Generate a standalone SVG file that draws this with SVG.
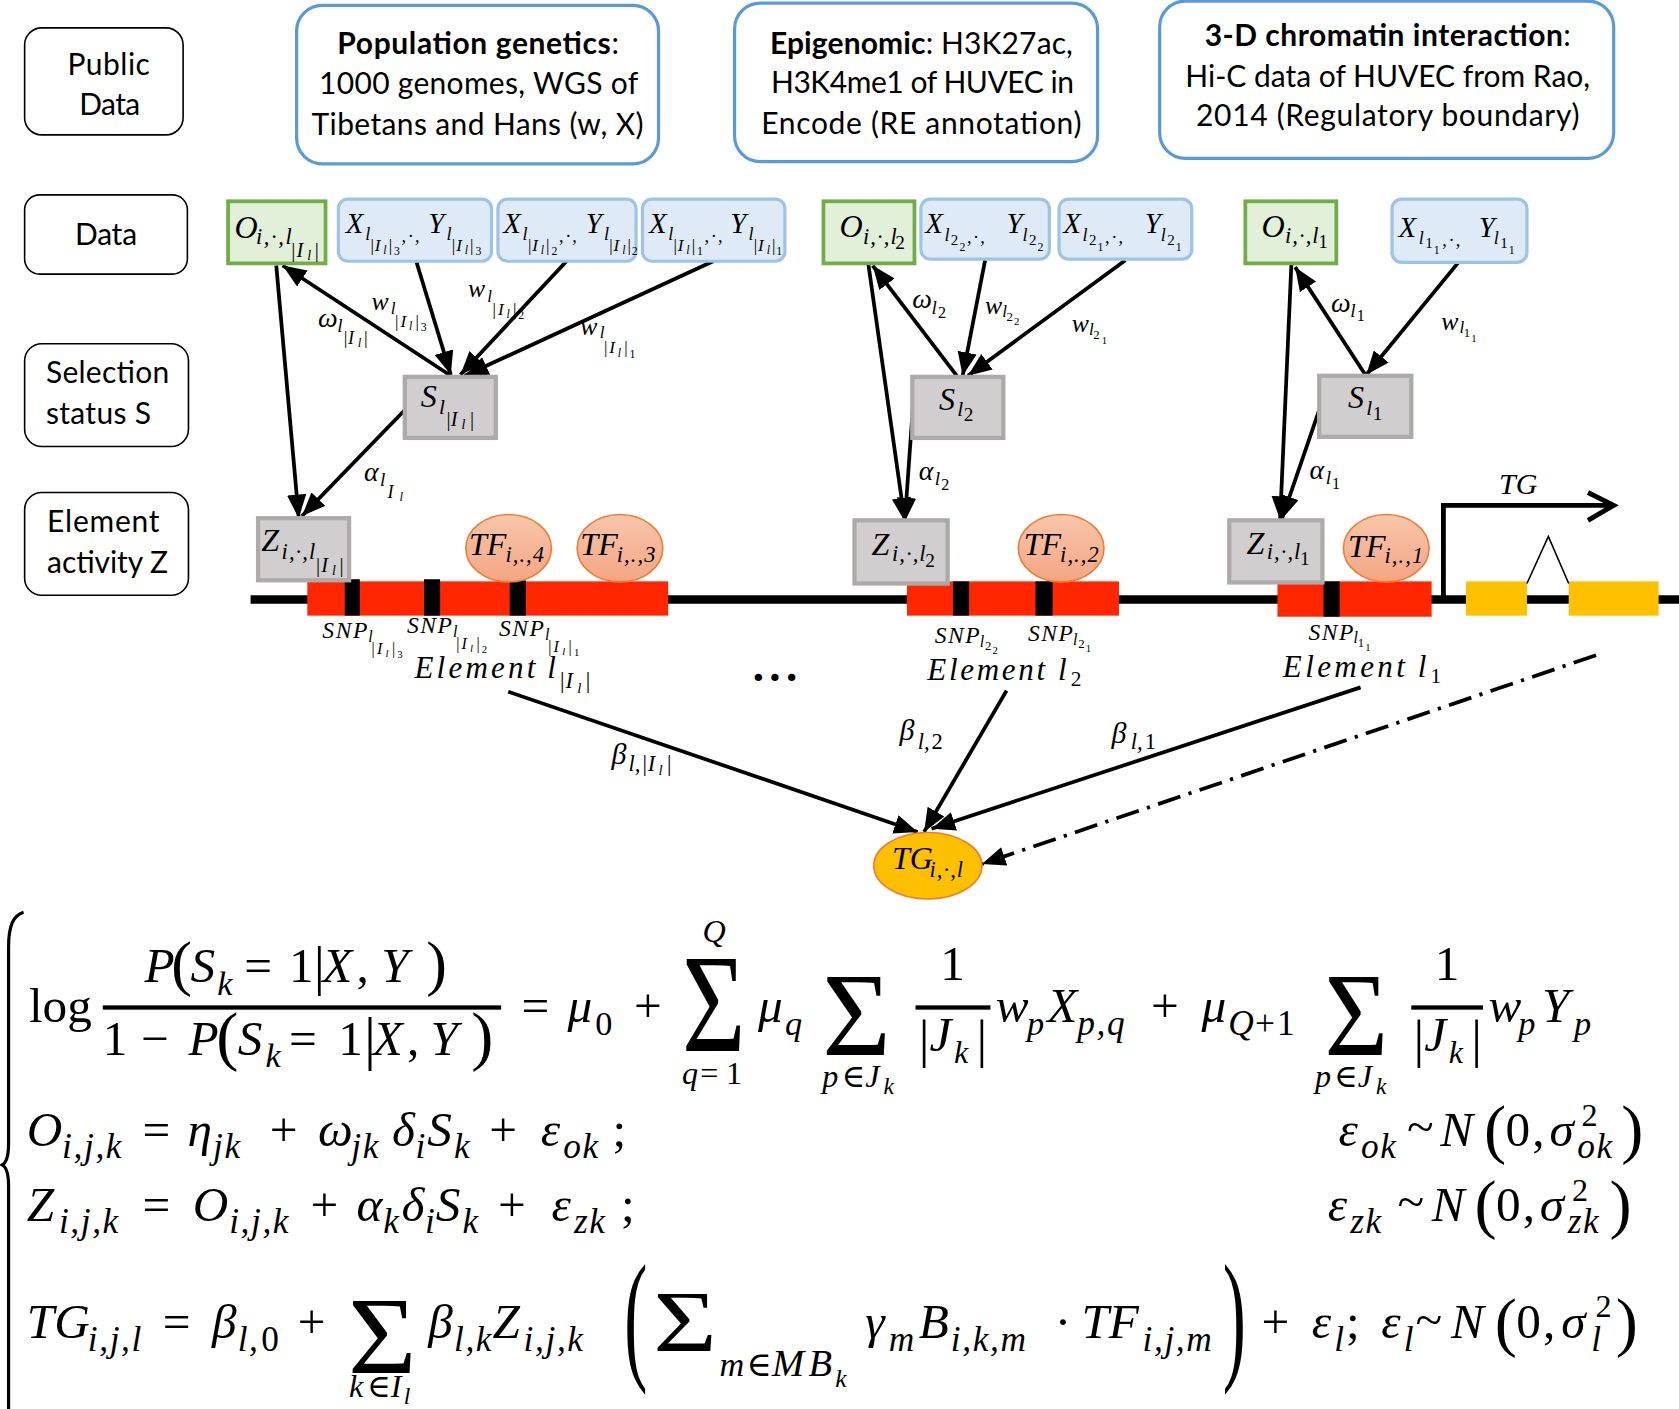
<svg xmlns="http://www.w3.org/2000/svg" width="1679" height="1409" viewBox="0 0 1679 1409">
<defs>
<style>
.lbl{font-family:Lato,"Liberation Sans",sans-serif;font-size:28px;fill:#000}
.b{font-weight:bold}
.i{font-family:"Liberation Serif","DejaVu Serif",serif;font-style:italic;fill:#000}
.n{font-family:"Liberation Serif","DejaVu Serif",serif;font-style:normal;fill:#000}
.s{font-size:33px;letter-spacing:1.5px}
.side{fill:#fff;stroke:#000;stroke-width:1.5}
.top{fill:#fff;stroke:#5b9bd5;stroke-width:3}
.obs{fill:#e2f0d9;stroke:#70ad47;stroke-width:3.5}
.xy{fill:#deebf7;stroke:#9dc3e6;stroke-width:3}
.gr{fill:#d0cece;stroke:#aeaaaa;stroke-width:4}
.tf{fill:url(#tfg);stroke:#ed7d31;stroke-width:1.5}
.arr{stroke:#000;stroke-width:3.5;fill:none;marker-end:url(#ah)}
</style>
<linearGradient id="tfg" x1="0" y1="0" x2="0" y2="1">
<stop offset="0" stop-color="#f8c6ab"/>
<stop offset="1" stop-color="#f4a683"/>
</linearGradient>
<marker id="ah" markerUnits="userSpaceOnUse" markerWidth="24" markerHeight="20" refX="22" refY="9" orient="auto">
<path d="M0,0 L22,9 L0,18 z" fill="#000"/>
</marker>
</defs>
<rect width="1679" height="1409" fill="#fff"/>
<g transform="scale(1.07079,1.07067)">

<!-- side labels -->
<g id="side-public"><rect class="side" x="23" y="26" width="148" height="100" rx="16"/>
<text class="lbl" x="63" y="70" textLength="77">Public</text><text class="lbl" x="74" y="107" textLength="57">Data</text></g>
<g id="side-data"><rect class="side" x="23" y="182" width="152" height="74" rx="14"/>
<text class="lbl" x="70" y="229" textLength="58">Data</text></g>
<g id="side-selection"><rect class="side" x="23" y="321" width="153" height="96" rx="16"/>
<text class="lbl" x="43" y="358" textLength="115">Selection</text><text class="lbl" x="43" y="396" textLength="98">status S</text></g>
<g id="side-element"><rect class="side" x="23" y="460" width="153" height="96" rx="16"/>
<text class="lbl" x="44" y="497" textLength="105">Element</text><text class="lbl" x="44" y="535" textLength="113">activity Z</text></g>

<!-- top public data boxes -->
<g id="pub-popgen"><rect class="top" x="277" y="5" width="338" height="148" rx="24"/>
<text class="lbl" x="315" y="50" textLength="263"><tspan class="b">Population genetics</tspan>:</text>
<text class="lbl" x="298" y="88" textLength="298">1000 genomes, WGS of</text>
<text class="lbl" x="291" y="126" textLength="310">Tibetans and Hans (w, X)</text></g>
<g id="pub-epi"><rect class="top" x="686" y="3" width="339" height="148" rx="24"/>
<text class="lbl" x="719" y="50" textLength="283"><tspan class="b">Epigenomic</tspan>: H3K27ac,</text>
<text class="lbl" x="720" y="87" textLength="283">H3K4me1 of HUVEC in</text>
<text class="lbl" x="711" y="125" textLength="299">Encode (RE annotation)</text></g>
<g id="pub-hic"><rect class="top" x="1083" y="1" width="424" height="147" rx="24"/>
<text class="lbl" x="1125" y="43" textLength="342"><tspan class="b">3-D chromatin interaction</tspan>:</text>
<text class="lbl" x="1107" y="81" textLength="378">Hi-C data of HUVEC from Rao,</text>
<text class="lbl" x="1117" y="118" textLength="358">2014 (Regulatory boundary)</text></g>

<!-- genome -->
<g id="genome">
<line x1="234" y1="560" x2="1568" y2="560" stroke="#000" stroke-width="8"/>
<rect x="287" y="543" width="337" height="32" fill="#ff2600"/>
<rect x="847" y="543" width="198" height="32" fill="#ff2600"/>
<rect x="1193" y="543" width="144" height="33" fill="#ff2600"/>
<rect x="322" y="541" width="14" height="34" fill="#000"/>
<rect x="396" y="541" width="15" height="34" fill="#000"/>
<rect x="476" y="542" width="15" height="33" fill="#000"/>
<rect x="890" y="543" width="15" height="32" fill="#000"/>
<rect x="967" y="543" width="16" height="32" fill="#000"/>
<rect x="1236" y="543" width="15" height="33" fill="#000"/>
<rect x="1369" y="543" width="57" height="32" fill="#ffc000"/>
<rect x="1465" y="543" width="84" height="32" fill="#ffc000"/>
<polyline points="1426,545 1446,501 1465,545" fill="none" stroke="#000" stroke-width="1.5"/>
<polyline points="1348,560 1348,472 1506,472" fill="none" stroke="#000" stroke-width="4.5"/>
<polyline points="1483,460 1507,472 1483,486" fill="none" stroke="#000" stroke-width="4.5"/>
<text class="i" x="1400" y="461" font-size="28">TG</text>
<text class="n" x="703" y="636" font-size="42" font-weight="bold" letter-spacing="5">...</text>
</g>

<!-- connectors -->
<g id="connectors">
<line class="arr" x1="258" y1="248" x2="279" y2="484"/>
<line class="arr" x1="378" y1="383" x2="282" y2="482"/>
<line class="arr" x1="421" y1="351" x2="264" y2="248"/>
<line class="arr" x1="389" y1="245" x2="421" y2="350"/>
<line class="arr" x1="529" y1="244" x2="430" y2="350"/>
<line class="arr" x1="666" y1="244" x2="434" y2="351"/>
<line class="arr" x1="811" y1="247" x2="845" y2="487"/>
<line class="arr" x1="852.5" y1="381" x2="845" y2="487"/>
<line class="arr" x1="893.6" y1="351" x2="815" y2="248"/>
<line class="arr" x1="920" y1="243" x2="899" y2="351"/>
<line class="arr" x1="1051" y1="243" x2="904" y2="351"/>
<line class="arr" x1="1206" y1="247" x2="1195.5" y2="485.5"/>
<line class="arr" x1="1233" y1="380" x2="1197" y2="485"/>
<line class="arr" x1="1275.7" y1="351" x2="1209.5" y2="249.5"/>
<line class="arr" x1="1362" y1="245" x2="1276" y2="350"/>
<line class="arr" x1="474.6" y1="646" x2="857" y2="777"/>
<line class="arr" x1="940" y1="645" x2="863" y2="777"/>
<line class="arr" x1="1270.6" y1="642" x2="870" y2="774"/>
<line class="arr" x1="1490.5" y1="612" x2="917" y2="807" stroke-dasharray="22 8 3 8" stroke-width="3"/>
<!-- connector labels -->
<text class="i" font-size="26"><tspan x="297" y="305">ω</tspan><tspan x="315" y="310" font-size="18">l</tspan><tspan class="n" x="321" y="321" font-size="17">|</tspan><tspan x="325" y="321" font-size="17">I</tspan><tspan x="334" y="324" font-size="12">l</tspan><tspan class="n" x="340" y="321" font-size="17">|</tspan></text>
<text class="i" font-size="24"><tspan x="347" y="290">w</tspan><tspan x="365" y="293" font-size="16">l</tspan><tspan class="n" x="369" y="305" font-size="16">|</tspan><tspan x="374" y="305" font-size="16">I</tspan><tspan x="382" y="308" font-size="11">l</tspan><tspan class="n" x="388" y="305" font-size="16">|</tspan><tspan class="n" x="393" y="309" font-size="11">3</tspan></text>
<text class="i" font-size="24"><tspan x="437" y="277">w</tspan><tspan x="455" y="282" font-size="16">l</tspan><tspan class="n" x="460" y="294" font-size="16">|</tspan><tspan x="465" y="294" font-size="16">I</tspan><tspan x="473" y="297" font-size="11">l</tspan><tspan class="n" x="479" y="294" font-size="16">|</tspan><tspan class="n" x="484" y="298" font-size="11">2</tspan></text>
<text class="i" font-size="24"><tspan x="542" y="313">w</tspan><tspan x="560" y="316" font-size="16">l</tspan><tspan class="n" x="564" y="330" font-size="16">|</tspan><tspan x="569" y="330" font-size="16">I</tspan><tspan x="577" y="333" font-size="11">l</tspan><tspan class="n" x="583" y="330" font-size="16">|</tspan><tspan class="n" x="588" y="334" font-size="11">1</tspan></text>
<text class="i" font-size="26"><tspan x="340" y="449">α</tspan><tspan x="355" y="454" font-size="18">l</tspan><tspan x="362" y="465" font-size="17">I</tspan><tspan x="373" y="468" font-size="12">l</tspan></text>
<text class="i" font-size="26"><tspan x="852" y="288">ω</tspan><tspan x="870" y="293" font-size="18">l</tspan><tspan class="n" x="876" y="297" font-size="15">2</tspan></text>
<text class="i" font-size="24"><tspan x="920" y="293">w</tspan><tspan x="936" y="296" font-size="16">l</tspan><tspan class="n" x="940" y="300" font-size="12">2</tspan><tspan class="n" x="947" y="304" font-size="10">2</tspan></text>
<text class="i" font-size="24"><tspan x="1001" y="310">w</tspan><tspan x="1017" y="313" font-size="16">l</tspan><tspan class="n" x="1021" y="317" font-size="12">2</tspan><tspan class="n" x="1029" y="321" font-size="10">1</tspan></text>
<text class="i" font-size="26"><tspan x="858" y="448">α</tspan><tspan x="873" y="453" font-size="18">l</tspan><tspan class="n" x="879" y="458" font-size="15">2</tspan></text>
<text class="i" font-size="26"><tspan x="1243" y="291">ω</tspan><tspan x="1261" y="296" font-size="18">l</tspan><tspan class="n" x="1267" y="300" font-size="15">1</tspan></text>
<text class="i" font-size="24"><tspan x="1346" y="308">w</tspan><tspan x="1363" y="311" font-size="16">l</tspan><tspan class="n" x="1367" y="315" font-size="12">1</tspan><tspan class="n" x="1374" y="319" font-size="10">1</tspan></text>
<text class="i" font-size="26"><tspan x="1223" y="447">α</tspan><tspan x="1238" y="452" font-size="18">l</tspan><tspan class="n" x="1244" y="457" font-size="15">1</tspan></text>
<text class="i" font-size="28"><tspan x="571" y="714">β</tspan><tspan x="587" y="720" font-size="21">l,</tspan><tspan class="n" x="600" y="720" font-size="21">|</tspan><tspan x="605" y="720" font-size="21">I</tspan><tspan x="615" y="724" font-size="14">l</tspan><tspan class="n" x="623" y="720" font-size="21">|</tspan></text>
<text class="i" font-size="28"><tspan x="840" y="691">β</tspan><tspan x="857" y="700" font-size="21">l,</tspan><tspan class="n" x="870" y="700" font-size="21">2</tspan></text>
<text class="i" font-size="28"><tspan x="1038" y="694">β</tspan><tspan x="1056" y="700" font-size="21">l,</tspan><tspan class="n" x="1069" y="700" font-size="21">1</tspan></text>
</g>

<!-- group |I_l| -->
<g id="O-lI"><rect class="obs" x="213" y="188" width="91" height="58"/>
<text class="i" font-size="30"><tspan x="219" y="222">O</tspan><tspan x="239" y="228" font-size="21" letter-spacing="1.5">i,·,l</tspan><tspan class="n" x="272" y="240" font-size="19">|</tspan><tspan x="277" y="240" font-size="19">I</tspan><tspan x="287" y="243" font-size="13">l</tspan><tspan class="n" x="294" y="240" font-size="19">|</tspan></text></g>
<g id="XY-lI3"><rect class="xy" x="316" y="186" width="143" height="58" rx="9"/>
<text class="i" font-size="27"><tspan x="323" y="218">X</tspan><tspan x="341" y="224" font-size="17">l</tspan><tspan class="n" x="346" y="234" font-size="16">|</tspan><tspan x="350" y="234" font-size="16">I</tspan><tspan x="358" y="237" font-size="11">l</tspan><tspan class="n" x="363" y="234" font-size="16">|</tspan><tspan class="n" x="368" y="238" font-size="11">3</tspan><tspan x="375" y="226" font-size="17" letter-spacing="2">,·,</tspan><tspan x="400" y="218">Y</tspan><tspan x="417" y="224" font-size="17">l</tspan><tspan class="n" x="422" y="234" font-size="16">|</tspan><tspan x="426" y="234" font-size="16">I</tspan><tspan x="434" y="237" font-size="11">l</tspan><tspan class="n" x="439" y="234" font-size="16">|</tspan><tspan class="n" x="444" y="238" font-size="11">3</tspan></text></g>
<g id="XY-lI2"><rect class="xy" x="465" y="186" width="129" height="58" rx="9"/>
<text class="i" font-size="27"><tspan x="470" y="218">X</tspan><tspan x="488" y="224" font-size="17">l</tspan><tspan class="n" x="493" y="234" font-size="16">|</tspan><tspan x="497" y="234" font-size="16">I</tspan><tspan x="505" y="237" font-size="11">l</tspan><tspan class="n" x="510" y="234" font-size="16">|</tspan><tspan class="n" x="515" y="238" font-size="11">2</tspan><tspan x="522" y="226" font-size="17" letter-spacing="2">,·,</tspan><tspan x="547" y="218">Y</tspan><tspan x="564" y="224" font-size="17">l</tspan><tspan class="n" x="569" y="234" font-size="16">|</tspan><tspan x="573" y="234" font-size="16">I</tspan><tspan x="581" y="237" font-size="11">l</tspan><tspan class="n" x="586" y="234" font-size="16">|</tspan><tspan class="n" x="590" y="238" font-size="11">2</tspan></text></g>
<g id="XY-lI1"><rect class="xy" x="600" y="186" width="133" height="58" rx="9"/>
<text class="i" font-size="27"><tspan x="606" y="218">X</tspan><tspan x="624" y="224" font-size="17">l</tspan><tspan class="n" x="629" y="234" font-size="16">|</tspan><tspan x="633" y="234" font-size="16">I</tspan><tspan x="641" y="237" font-size="11">l</tspan><tspan class="n" x="646" y="234" font-size="16">|</tspan><tspan class="n" x="651" y="238" font-size="11">1</tspan><tspan x="658" y="226" font-size="17" letter-spacing="2">,·,</tspan><tspan x="682" y="218">Y</tspan><tspan x="699" y="224" font-size="17">l</tspan><tspan class="n" x="704" y="234" font-size="16">|</tspan><tspan x="708" y="234" font-size="16">I</tspan><tspan x="716" y="237" font-size="11">l</tspan><tspan class="n" x="721" y="234" font-size="16">|</tspan><tspan class="n" x="725" y="238" font-size="11">1</tspan></text></g>
<g id="S-lI"><rect class="gr" x="378" y="352" width="85" height="57"/>
<text class="i" font-size="30"><tspan x="393" y="380">S</tspan><tspan x="410" y="387" font-size="20">l</tspan><tspan class="n" x="417" y="398" font-size="19">|</tspan><tspan x="421" y="398" font-size="19">I</tspan><tspan x="431" y="401" font-size="13">l</tspan><tspan class="n" x="439" y="398" font-size="19">|</tspan></text></g>
<g id="Z-lI"><rect class="gr" x="241" y="484" width="85" height="58"/>
<text class="i" font-size="30"><tspan x="244" y="515">Z</tspan><tspan x="263" y="522" font-size="21" letter-spacing="1">i,·,l</tspan><tspan class="n" x="295" y="534" font-size="19">|</tspan><tspan x="300" y="534" font-size="19">I</tspan><tspan x="310" y="537" font-size="13">l</tspan><tspan class="n" x="317" y="534" font-size="19">|</tspan></text></g>
<g id="TF4"><ellipse class="tf" cx="475" cy="512" rx="40" ry="31.5"/>
<text class="i" font-size="30"><tspan x="438" y="518">TF</tspan><tspan x="472" y="525" font-size="21" letter-spacing="1">i,.,4</tspan></text></g>
<g id="TF3"><ellipse class="tf" cx="579" cy="512" rx="40" ry="31.5"/>
<text class="i" font-size="30"><tspan x="542" y="518">TF</tspan><tspan x="576" y="525" font-size="21" letter-spacing="1">i,.,3</tspan></text></g>
<g id="element-lI">
<text class="i" font-size="22"><tspan x="301" y="596" textLength="42">SNP</tspan><tspan x="344" y="600" font-size="15">l</tspan><tspan class="n" x="347" y="611" font-size="15">|</tspan><tspan x="352" y="611" font-size="15">I</tspan><tspan x="360" y="614" font-size="10">l</tspan><tspan class="n" x="366" y="611" font-size="15">|</tspan><tspan class="n" x="371" y="615" font-size="10">3</tspan></text>
<text class="i" font-size="22"><tspan x="380" y="591" textLength="42">SNP</tspan><tspan x="423" y="595" font-size="15">l</tspan><tspan class="n" x="426" y="606" font-size="15">|</tspan><tspan x="431" y="606" font-size="15">I</tspan><tspan x="439" y="609" font-size="10">l</tspan><tspan class="n" x="445" y="606" font-size="15">|</tspan><tspan class="n" x="450" y="610" font-size="10">2</tspan></text>
<text class="i" font-size="22"><tspan x="466" y="594" textLength="42">SNP</tspan><tspan x="509" y="598" font-size="15">l</tspan><tspan class="n" x="512" y="609" font-size="15">|</tspan><tspan x="517" y="609" font-size="15">I</tspan><tspan x="525" y="612" font-size="10">l</tspan><tspan class="n" x="531" y="609" font-size="15">|</tspan><tspan class="n" x="536" y="613" font-size="10">1</tspan></text>
<text class="i" x="387" y="633" font-size="29" textLength="113">Element</text>
<text class="i" font-size="29"><tspan x="511" y="633">l</tspan><tspan class="n" x="523" y="643" font-size="21">|</tspan><tspan x="528" y="643" font-size="21">I</tspan><tspan x="539" y="647" font-size="14">l</tspan><tspan class="n" x="547" y="643" font-size="21">|</tspan></text>
</g>

<!-- group l2 -->
<g id="O-l2"><rect class="obs" x="769" y="188" width="85" height="58"/>
<text class="i" font-size="30"><tspan x="784" y="221">O</tspan><tspan x="806" y="228" font-size="21" letter-spacing="1">i,·,l</tspan><tspan class="n" x="836" y="233" font-size="18">2</tspan></text></g>
<g id="XY-l22"><rect class="xy" x="860" y="186" width="120" height="56" rx="9"/>
<text class="i" font-size="27"><tspan x="864" y="218">X</tspan><tspan x="882" y="225" font-size="17">l</tspan><tspan class="n" x="888" y="229" font-size="14">2</tspan><tspan class="n" x="896" y="234" font-size="11">2</tspan><tspan x="903" y="227" font-size="17" letter-spacing="2">,·,</tspan><tspan x="940" y="218">Y</tspan><tspan x="955" y="225" font-size="17">l</tspan><tspan class="n" x="961" y="229" font-size="14">2</tspan><tspan class="n" x="969" y="234" font-size="11">2</tspan></text></g>
<g id="XY-l21"><rect class="xy" x="989" y="186" width="124" height="56" rx="9"/>
<text class="i" font-size="27"><tspan x="993" y="218">X</tspan><tspan x="1011" y="225" font-size="17">l</tspan><tspan class="n" x="1017" y="229" font-size="14">2</tspan><tspan class="n" x="1025" y="234" font-size="11">1</tspan><tspan x="1032" y="227" font-size="17" letter-spacing="2">,·,</tspan><tspan x="1069" y="218">Y</tspan><tspan x="1084" y="225" font-size="17">l</tspan><tspan class="n" x="1090" y="229" font-size="14">2</tspan><tspan class="n" x="1098" y="234" font-size="11">1</tspan></text></g>
<g id="S-l2"><rect class="gr" x="852" y="352" width="85" height="57"/>
<text class="i" font-size="30"><tspan x="877" y="383">S</tspan><tspan x="894" y="389" font-size="20">l</tspan><tspan class="n" x="900" y="393" font-size="18">2</tspan></text></g>
<g id="Z-l2"><rect class="gr" x="798" y="486" width="87" height="59"/>
<text class="i" font-size="30"><tspan x="814" y="518">Z</tspan><tspan x="833" y="524" font-size="21" letter-spacing="1">i,·,l</tspan><tspan class="n" x="864" y="530" font-size="18">2</tspan></text></g>
<g id="TF2"><ellipse class="tf" cx="991" cy="512" rx="40" ry="31.5"/>
<text class="i" font-size="30"><tspan x="956" y="518">TF</tspan><tspan x="990" y="525" font-size="21" letter-spacing="1">i,.,2</tspan></text></g>
<g id="element-l2">
<text class="i" font-size="22"><tspan x="873" y="601" textLength="42">SNP</tspan><tspan x="915" y="604" font-size="15">l</tspan><tspan class="n" x="920" y="607" font-size="12">2</tspan><tspan class="n" x="927" y="611" font-size="10">2</tspan></text>
<text class="i" font-size="22"><tspan x="960" y="599" textLength="42">SNP</tspan><tspan x="1002" y="602" font-size="15">l</tspan><tspan class="n" x="1007" y="605" font-size="12">2</tspan><tspan class="n" x="1014" y="609" font-size="10">1</tspan></text>
<text class="i" x="866" y="635" font-size="29" textLength="110">Element</text>
<text class="i" font-size="29"><tspan x="988" y="635">l</tspan><tspan class="n" x="1000" y="641" font-size="20">2</tspan></text>
</g>

<!-- group l1 -->
<g id="O-l1"><rect class="obs" x="1163" y="188" width="85" height="58"/>
<text class="i" font-size="30"><tspan x="1178" y="221">O</tspan><tspan x="1200" y="227" font-size="21" letter-spacing="1">i,·,l</tspan><tspan class="n" x="1231" y="232" font-size="18">1</tspan></text></g>
<g id="XY-l11"><rect class="xy" x="1300" y="186" width="126" height="59" rx="9"/>
<text class="i" font-size="27"><tspan x="1306" y="221">X</tspan><tspan x="1325" y="228" font-size="17">l</tspan><tspan class="n" x="1331" y="232" font-size="14">1</tspan><tspan class="n" x="1339" y="237" font-size="11">1</tspan><tspan x="1347" y="230" font-size="17" letter-spacing="2">,·,</tspan><tspan x="1381" y="221">Y</tspan><tspan x="1395" y="228" font-size="17">l</tspan><tspan class="n" x="1401" y="232" font-size="14">1</tspan><tspan class="n" x="1409" y="237" font-size="11">1</tspan></text></g>
<g id="S-l1"><rect class="gr" x="1232" y="351" width="86" height="57"/>
<text class="i" font-size="30"><tspan x="1259" y="381">S</tspan><tspan x="1276" y="388" font-size="20">l</tspan><tspan class="n" x="1282" y="392" font-size="18">1</tspan></text></g>
<g id="Z-l1"><rect class="gr" x="1148" y="486" width="87" height="58"/>
<text class="i" font-size="30"><tspan x="1164" y="517">Z</tspan><tspan x="1183" y="522" font-size="21" letter-spacing="1">i,·,l</tspan><tspan class="n" x="1214" y="528" font-size="18">1</tspan></text></g>
<g id="TF1"><ellipse class="tf" cx="1294.6" cy="512" rx="40" ry="31.5"/>
<text class="i" font-size="30"><tspan x="1259" y="520">TF</tspan><tspan x="1293" y="526" font-size="21" letter-spacing="1">i,.,1</tspan></text></g>
<g id="element-l1">
<text class="i" font-size="22"><tspan x="1222" y="598" textLength="42">SNP</tspan><tspan x="1264" y="601" font-size="15">l</tspan><tspan class="n" x="1268" y="604" font-size="12">1</tspan><tspan class="n" x="1275" y="608" font-size="10">1</tspan></text>
<text class="i" x="1198" y="632" font-size="29" textLength="114">Element</text>
<text class="i" font-size="29"><tspan x="1324" y="632">l</tspan><tspan class="n" x="1336" y="638" font-size="20">1</tspan></text>
</g>

<!-- target gene node -->
<g id="TG"><ellipse cx="866.5" cy="808.6" rx="50.5" ry="31" fill="#ffc000" stroke="#ed7d31" stroke-width="1.5"/>
<text class="i" font-size="30"><tspan x="833" y="812">TG</tspan><tspan x="868" y="819" font-size="21" letter-spacing="1">i,·,l</tspan></text></g>

<!-- equations -->
<g id="equations">
<path d="M22,852 C12,855 8,865 8,885 L8,1068 C8,1080 6,1086 2,1088 C6,1090 8,1096 8,1108 L8,1316" fill="none" stroke="#000" stroke-width="3"/>
<!-- line 1 -->
<text class="n" x="27" y="955" font-size="46">log</text>
<text class="i" font-size="46"><tspan x="135" y="917">P</tspan><tspan class="n" x="160" y="919" font-size="58">(</tspan><tspan x="178" y="917">S</tspan><tspan x="203" y="929" font-size="32">k</tspan><tspan class="n" x="228" y="917">=</tspan><tspan class="n" x="270" y="917">1</tspan><tspan class="n" x="293" y="919" font-size="52">|</tspan><tspan x="301" y="917">X</tspan><tspan class="n" x="333" y="917">,</tspan><tspan x="356" y="917">Y</tspan><tspan class="n" x="398" y="919" font-size="58">)</tspan></text>
<rect x="96" y="939" width="372" height="4" fill="#000"/>
<text class="i" font-size="46"><tspan class="n" x="96" y="985">1</tspan><tspan class="n" x="132" y="985">−</tspan><tspan x="176" y="985">P</tspan><tspan class="n" x="202" y="988" font-size="62">(</tspan><tspan x="222" y="985">S</tspan><tspan x="248" y="997" font-size="32">k</tspan><tspan class="n" x="270" y="985">=</tspan><tspan class="n" x="316" y="985">1</tspan><tspan class="n" x="340" y="988" font-size="56">|</tspan><tspan x="348" y="985">X</tspan><tspan class="n" x="380" y="985">,</tspan><tspan x="402" y="985">Y</tspan><tspan class="n" x="440" y="988" font-size="62">)</tspan></text>
<text class="i" font-size="46"><tspan class="n" x="487" y="955">=</tspan><tspan x="530" y="955">μ</tspan><tspan class="n" x="556" y="967" font-size="32">0</tspan><tspan class="n" x="592" y="955">+</tspan></text>
<text class="n" font-size="100" transform="translate(637,982) scale(1.02,1.3)">Σ</text>
<text class="i" font-size="30"><tspan x="656" y="880">Q</tspan><tspan x="637" y="1012">q</tspan><tspan class="n" x="654" y="1012">=</tspan><tspan class="n" x="678" y="1012">1</tspan></text>
<text class="i" font-size="46"><tspan x="708" y="955">μ</tspan><tspan x="733" y="967" font-size="32">q</tspan></text>
<text class="n" font-size="100" transform="translate(768,985) scale(1.1,1.1)">Σ</text>
<text class="i" font-size="30"><tspan x="768" y="1015">p</tspan><tspan class="n" x="786" y="1015">∈</tspan><tspan x="808" y="1015">J</tspan><tspan x="825" y="1022" font-size="22">k</tspan></text>
<text class="n" x="878" y="915" font-size="46">1</text>
<rect x="855" y="939" width="70" height="4" fill="#000"/>
<text class="i" font-size="46"><tspan class="n" x="858" y="987" font-size="50">|</tspan><tspan x="868" y="982">J</tspan><tspan x="891" y="993" font-size="30">k</tspan><tspan class="n" x="912" y="987" font-size="50">|</tspan></text>
<text class="i" font-size="46"><tspan x="930" y="955">w</tspan><tspan x="959" y="967" font-size="32">p</tspan><tspan x="978" y="955">X</tspan><tspan class="s" x="1006" y="967">p,q</tspan><tspan class="n" x="1075" y="955">+</tspan><tspan x="1122" y="955">μ</tspan><tspan x="1147" y="967" font-size="33">Q</tspan><tspan class="n" x="1172" y="967" font-size="33" letter-spacing="2">+1</tspan></text>
<text class="n" font-size="100" transform="translate(1237,985) scale(1.02,1.1)">Σ</text>
<text class="i" font-size="30"><tspan x="1228" y="1015">p</tspan><tspan class="n" x="1246" y="1015">∈</tspan><tspan x="1268" y="1015">J</tspan><tspan x="1285" y="1022" font-size="22">k</tspan></text>
<text class="n" x="1340" y="915" font-size="46">1</text>
<rect x="1318" y="939" width="67" height="4" fill="#000"/>
<text class="i" font-size="46"><tspan class="n" x="1320" y="987" font-size="50">|</tspan><tspan x="1330" y="982">J</tspan><tspan x="1353" y="993" font-size="30">k</tspan><tspan class="n" x="1374" y="987" font-size="50">|</tspan></text>
<text class="i" font-size="46"><tspan x="1390" y="955">w</tspan><tspan x="1418" y="967" font-size="32">p</tspan><tspan x="1440" y="955">Y</tspan><tspan x="1470" y="967" font-size="32">p</tspan></text>
<!-- line 2 -->
<text class="i" font-size="46"><tspan x="25" y="1070">O</tspan><tspan class="s" x="58" y="1082">i,j,k</tspan><tspan class="n" x="133" y="1070">=</tspan><tspan x="175" y="1070">η</tspan><tspan class="s" x="199" y="1082" letter-spacing="3">jk</tspan><tspan class="n" x="252" y="1070">+</tspan><tspan x="297" y="1070">ω</tspan><tspan class="s" x="328" y="1082" letter-spacing="3">jk</tspan><tspan x="366" y="1070">δ</tspan><tspan x="388" y="1082" font-size="33">i</tspan><tspan x="399" y="1070">S</tspan><tspan x="424" y="1082" font-size="33">k</tspan><tspan class="n" x="457" y="1070">+</tspan><tspan x="505" y="1070">ε</tspan><tspan class="s" x="526" y="1082" letter-spacing="3">ok</tspan><tspan class="n" x="572" y="1070">;</tspan></text>
<text class="i" font-size="46"><tspan x="1250" y="1070">ε</tspan><tspan class="s" x="1271" y="1082">ok</tspan><tspan class="n" x="1314" y="1068">~</tspan><tspan x="1345" y="1070">N</tspan><tspan class="n" x="1386" y="1075" font-size="62">(</tspan><tspan class="n" x="1406" y="1070">0</tspan><tspan class="n" x="1431" y="1070">,</tspan><tspan x="1447" y="1070">σ</tspan><tspan class="n" x="1477" y="1052" font-size="30">2</tspan><tspan class="s" x="1473" y="1082">ok</tspan><tspan class="n" x="1514" y="1075" font-size="62">)</tspan></text>
<!-- line 3 -->
<text class="i" font-size="46"><tspan x="25" y="1140">Z</tspan><tspan class="s" x="55" y="1152">i,j,k</tspan><tspan class="n" x="133" y="1140">=</tspan><tspan x="180" y="1140">O</tspan><tspan class="s" x="214" y="1152">i,j,k</tspan><tspan class="n" x="290" y="1140">+</tspan><tspan x="333" y="1140">α</tspan><tspan x="358" y="1152" font-size="33">k</tspan><tspan x="375" y="1140">δ</tspan><tspan x="397" y="1152" font-size="33">i</tspan><tspan x="407" y="1140">S</tspan><tspan x="432" y="1152" font-size="33">k</tspan><tspan class="n" x="465" y="1140">+</tspan><tspan x="515" y="1140">ε</tspan><tspan class="s" x="536" y="1152" letter-spacing="3">zk</tspan><tspan class="n" x="580" y="1140">;</tspan></text>
<text class="i" font-size="46"><tspan x="1240" y="1140">ε</tspan><tspan class="s" x="1261" y="1152">zk</tspan><tspan class="n" x="1305" y="1138">~</tspan><tspan x="1337" y="1140">N</tspan><tspan class="n" x="1377" y="1145" font-size="62">(</tspan><tspan class="n" x="1397" y="1140">0</tspan><tspan class="n" x="1422" y="1140">,</tspan><tspan x="1438" y="1140">σ</tspan><tspan class="n" x="1468" y="1122" font-size="30">2</tspan><tspan class="s" x="1464" y="1152">zk</tspan><tspan class="n" x="1503" y="1145" font-size="62">)</tspan></text>
<!-- line 4 -->
<text class="i" font-size="46"><tspan x="25" y="1250">TG</tspan><tspan class="s" x="82" y="1262" letter-spacing="2">i,j,l</tspan><tspan class="n" x="152" y="1250">=</tspan><tspan x="198" y="1250">β</tspan><tspan class="s" x="222" y="1262">l,</tspan><tspan class="n" x="244" y="1262" font-size="33">0</tspan><tspan class="n" x="278" y="1250">+</tspan></text>
<text class="n" font-size="100" transform="translate(325,1282) scale(1.1,1.02)">Σ</text>
<text class="i" font-size="30"><tspan x="326" y="1305">k</tspan><tspan class="n" x="343" y="1305">∈</tspan><tspan x="365" y="1305">I</tspan><tspan x="377" y="1311" font-size="22">l</tspan></text>
<text class="i" font-size="46"><tspan x="400" y="1250">β</tspan><tspan class="s" x="424" y="1262">l,k</tspan><tspan x="460" y="1250">Z</tspan><tspan class="s" x="489" y="1262" letter-spacing="3">i,j,k</tspan></text>
<text class="n" font-size="135" transform="translate(583,1274) scale(0.48,1)">(</text>
<text class="n" font-size="100" transform="translate(610,1262) scale(1.02,0.8)">Σ</text>
<text class="i" font-size="32"><tspan x="672" y="1285">m</tspan><tspan class="n" x="697" y="1285">∈</tspan><tspan x="721" y="1285" font-size="36">M</tspan><tspan x="755" y="1285" font-size="36">B</tspan><tspan x="780" y="1295" font-size="24">k</tspan></text>
<text class="i" font-size="46"><tspan x="808" y="1250">γ</tspan><tspan x="830" y="1262" font-size="33">m</tspan><tspan x="858" y="1250">B</tspan><tspan class="s" x="888" y="1262" letter-spacing="4">i,k,m</tspan><tspan class="n" x="985" y="1250">·</tspan><tspan x="1010" y="1250">TF</tspan><tspan class="s" x="1067" y="1262" letter-spacing="3">i,j,m</tspan></text>
<text class="n" font-size="135" transform="translate(1142,1274) scale(0.48,1)">)</text>
<text class="i" font-size="46"><tspan class="n" x="1178" y="1250">+</tspan><tspan x="1225" y="1250">ε</tspan><tspan x="1246" y="1262" font-size="33">l</tspan><tspan class="n" x="1257" y="1250">;</tspan><tspan x="1290" y="1250">ε</tspan><tspan x="1311" y="1262" font-size="33">l</tspan><tspan class="n" x="1322" y="1248">~</tspan><tspan x="1355" y="1250">N</tspan><tspan class="n" x="1396" y="1255" font-size="62">(</tspan><tspan class="n" x="1416" y="1250">0</tspan><tspan class="n" x="1441" y="1250">,</tspan><tspan x="1458" y="1250">σ</tspan><tspan class="n" x="1490" y="1230" font-size="30">2</tspan><tspan x="1486" y="1262" font-size="33">l</tspan><tspan class="n" x="1509" y="1255" font-size="62">)</tspan></text>
</g>
</g>
</svg>
